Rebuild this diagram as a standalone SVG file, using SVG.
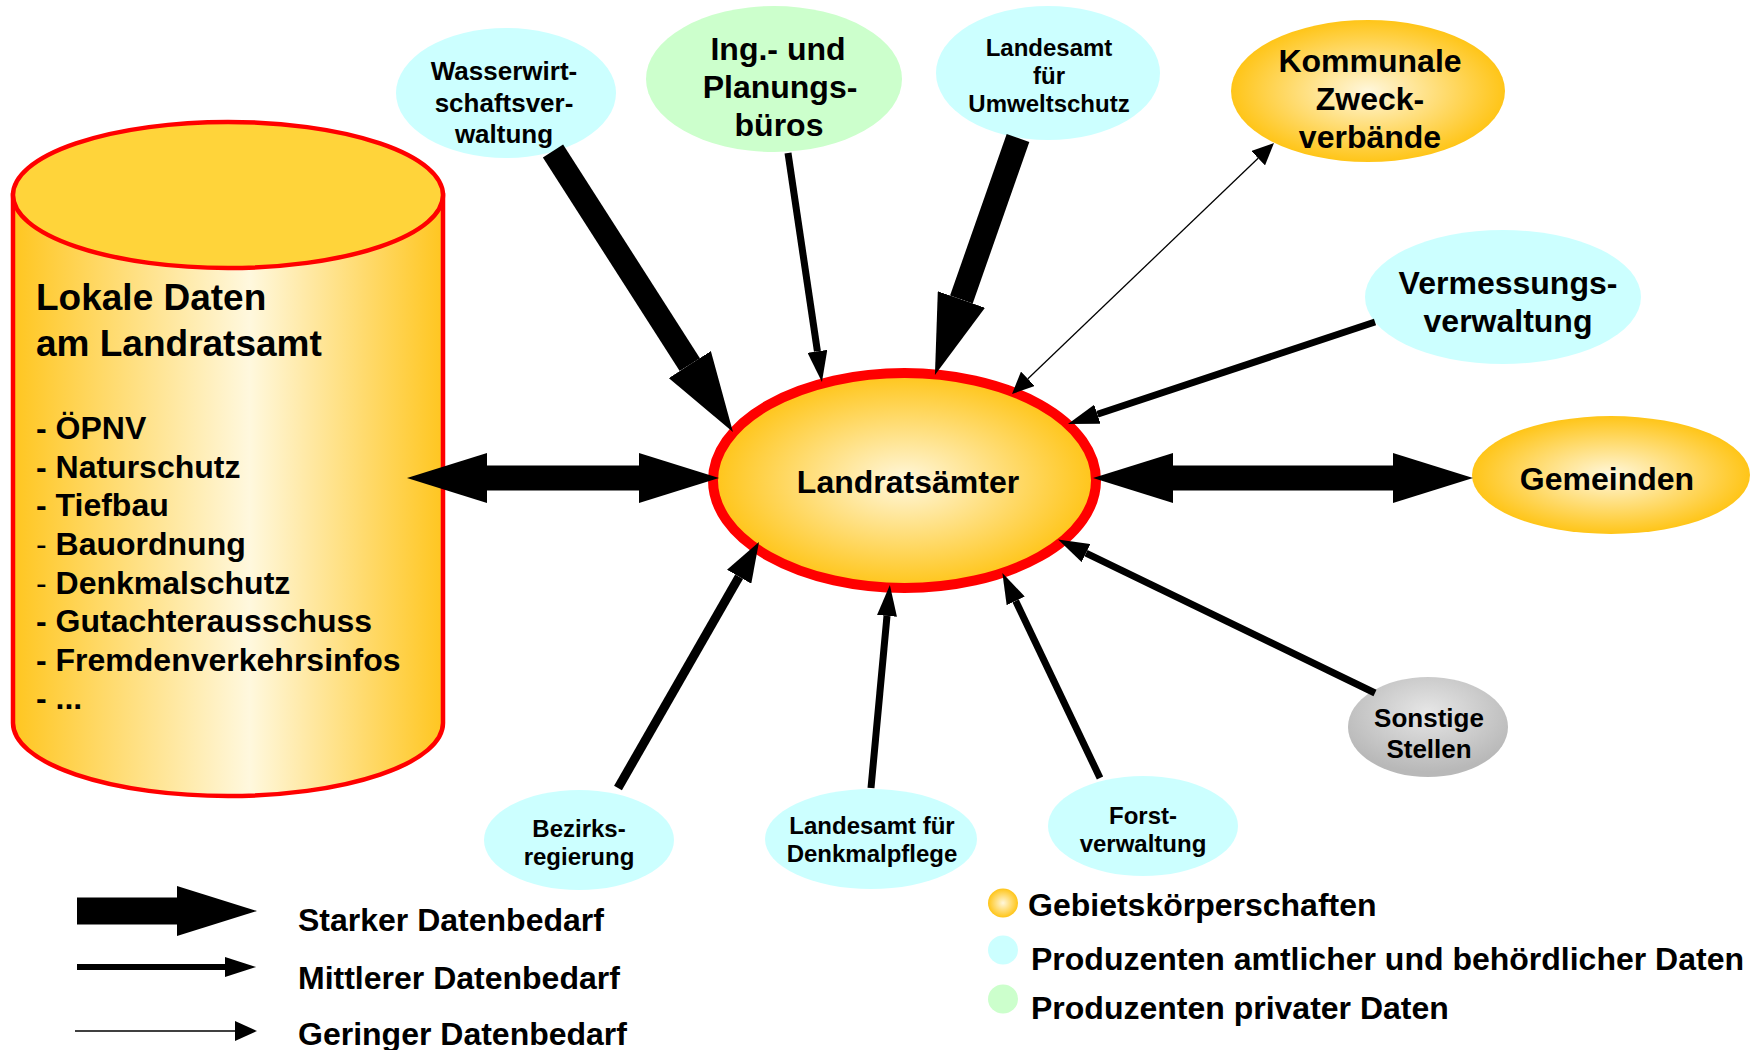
<svg xmlns="http://www.w3.org/2000/svg" width="1758" height="1050" viewBox="0 0 1758 1050">
<style>
text{font-family:"Liberation Sans",Arial,sans-serif;font-weight:bold;fill:#000}
.c{text-anchor:middle}
.cyan{fill:#CCFFFF}
.green{fill:#CCFFCC}
.gold{fill:url(#gGold)}
.s{stroke:#000;fill:none}
.strong{stroke-width:24}
.med{stroke-width:7}
.thin{stroke-width:1.3}
</style>
<defs>
<radialGradient id="gGold" cx="50%" cy="50%" r="50%">
<stop offset="0" stop-color="#FFF7DC"/>
<stop offset="1" stop-color="#FFC518"/>
</radialGradient>
<radialGradient id="gGray" cx="50%" cy="35%" r="60%">
<stop offset="0" stop-color="#E6E6E6"/>
<stop offset="1" stop-color="#B8B8B8"/>
</radialGradient>
<linearGradient id="gCyl" x1="0" y1="0" x2="1" y2="0">
<stop offset="0" stop-color="#FFC620"/>
<stop offset="0.55" stop-color="#FFF8DE"/>
<stop offset="1" stop-color="#FFC620"/>
</linearGradient>
<marker id="hStrong" markerUnits="userSpaceOnUse" viewBox="0 -25 80 50" refX="0" refY="0" markerWidth="80" markerHeight="50" orient="auto-start-reverse"><path d="M0,-25L80,0L0,25Z" fill="#000"/></marker>
<marker id="hMed" markerUnits="userSpaceOnUse" viewBox="0 -10 31 20" refX="0" refY="0" markerWidth="31" markerHeight="20" orient="auto"><path d="M0,-10L31,0L0,10Z" fill="#000"/></marker>
<marker id="hMedL" markerUnits="userSpaceOnUse" viewBox="0 -14 40 28" refX="0" refY="0" markerWidth="40" markerHeight="28" orient="auto"><path d="M0,-14L40,0L0,14Z" fill="#000"/></marker>
<marker id="hThin" markerUnits="userSpaceOnUse" viewBox="0 -10 22 20" refX="0" refY="0" markerWidth="22" markerHeight="20" orient="auto-start-reverse"><path d="M0,-10L22,0L0,10Z" fill="#000"/></marker>
</defs>
<rect width="1758" height="1050" fill="#fff"/>

<g id="lokale-daten">
<path d="M13,195V723A215,73 0 0 0 443,723V195Z" fill="url(#gCyl)" stroke="#FF0000" stroke-width="4.5"/>
<ellipse cx="228" cy="195" rx="215" ry="73" fill="#FFD43A" stroke="#FF0000" stroke-width="4.5"/>
<text x="36" y="310" font-size="37">Lokale Daten</text>
<text x="36" y="356" font-size="37">am Landratsamt</text>
<text x="36" y="439" font-size="32">- ÖPNV</text>
<text x="36" y="478" font-size="32">- Naturschutz</text>
<text x="36" y="516" font-size="32">- Tiefbau</text>
<text x="36" y="555" font-size="32"><tspan font-weight="normal">- </tspan>Bauordnung</text>
<text x="36" y="594" font-size="32"><tspan font-weight="normal">- </tspan>Denkmalschutz</text>
<text x="36" y="632" font-size="32">- Gutachterausschuss</text>
<text x="36" y="671" font-size="32">- Fremdenverkehrsinfos</text>
<text x="36" y="709" font-size="32">- ...</text>
</g>

<g id="wasserwirtschaft">
<ellipse class="cyan" cx="506" cy="93" rx="110" ry="65"/>
<text class="c" x="504" y="80" font-size="26">Wasserwirt-</text>
<text class="c" x="504" y="112" font-size="26">schaftsver-</text>
<text class="c" x="504" y="143" font-size="26">waltung</text>
</g>

<g id="ingenieurbueros">
<ellipse class="green" cx="774" cy="79" rx="128" ry="73"/>
<text class="c" x="778" y="60" font-size="32">Ing.- und</text>
<text class="c" x="780" y="98" font-size="32">Planungs-</text>
<text class="c" x="779" y="136" font-size="32">büros</text>
</g>

<g id="landesamt-umweltschutz">
<ellipse class="cyan" cx="1048" cy="73" rx="112" ry="67"/>
<text class="c" x="1049" y="56" font-size="24">Landesamt</text>
<text class="c" x="1049" y="84" font-size="24">für</text>
<text class="c" x="1049" y="112" font-size="24">Umweltschutz</text>
</g>

<g id="kommunale-zweckverbaende">
<ellipse class="gold" cx="1368" cy="91" rx="137" ry="71"/>
<text class="c" x="1370" y="72" font-size="32">Kommunale</text>
<text class="c" x="1370" y="110" font-size="32">Zweck-</text>
<text class="c" x="1370" y="148" font-size="32">verbände</text>
</g>

<g id="vermessungsverwaltung">
<ellipse class="cyan" cx="1503" cy="297" rx="138" ry="67"/>
<text class="c" x="1508" y="294" font-size="32">Vermessungs-</text>
<text class="c" x="1508" y="332" font-size="32">verwaltung</text>
</g>

<g id="gemeinden">
<ellipse class="gold" cx="1611" cy="475" rx="139" ry="59"/>
<text class="c" x="1607" y="490" font-size="32">Gemeinden</text>
</g>

<g id="sonstige-stellen">
<ellipse cx="1428" cy="727" rx="80" ry="50" fill="url(#gGray)"/>
<text class="c" x="1429" y="727" font-size="26">Sonstige</text>
<text class="c" x="1429" y="758" font-size="26">Stellen</text>
</g>

<g id="forstverwaltung">
<ellipse class="cyan" cx="1143" cy="826" rx="95" ry="50"/>
<text class="c" x="1143" y="824" font-size="24">Forst-</text>
<text class="c" x="1143" y="852" font-size="24">verwaltung</text>
</g>

<g id="landesamt-denkmalpflege">
<ellipse class="cyan" cx="871" cy="839" rx="106" ry="50"/>
<text class="c" x="872" y="834" font-size="24">Landesamt für</text>
<text class="c" x="872" y="862" font-size="24">Denkmalpflege</text>
</g>

<g id="bezirksregierung">
<ellipse class="cyan" cx="579" cy="840" rx="95" ry="50"/>
<text class="c" x="579" y="837" font-size="24">Bezirks-</text>
<text class="c" x="579" y="865" font-size="24">regierung</text>
</g>

<g id="landratsaemter">
<ellipse class="gold" cx="904.5" cy="480.5" rx="191.5" ry="107.5" stroke="#FF0000" stroke-width="10"/>
<text class="c" x="908" y="493" font-size="32">Landratsämter</text>
</g>

<g id="connectors">
<line class="s strong" x1="553" y1="151" x2="689.8" y2="364.6" marker-end="url(#hStrong)"/>
<line class="s med" x1="788" y1="153" x2="817.4" y2="351.3" stroke-width="6.5" marker-end="url(#hMed)"/>
<line class="s strong" x1="1018" y1="138" x2="961.4" y2="299.5" marker-end="url(#hStrong)"/>
<line class="s thin" x1="1027.9" y1="378.8" x2="1258.1" y2="158.2" marker-start="url(#hThin)" marker-end="url(#hThin)"/>
<line class="s med" x1="1375" y1="322" x2="1097.4" y2="414.2" marker-end="url(#hMed)"/>
<line class="s" x1="1173" y1="478" x2="1393" y2="478" stroke-width="25" marker-start="url(#hStrong)" marker-end="url(#hStrong)"/>
<line class="s" x1="487" y1="478" x2="639" y2="478" stroke-width="25" marker-start="url(#hStrong)" marker-end="url(#hStrong)"/>
<line class="s" x1="618" y1="788" x2="739.1" y2="576.7" stroke-width="9" marker-end="url(#hMedL)"/>
<line class="s med" x1="871" y1="788" x2="887" y2="615.9" marker-end="url(#hMed)"/>
<line class="s med" x1="1100" y1="778" x2="1015.7" y2="600.9" marker-end="url(#hMed)"/>
<line class="s med" x1="1375" y1="693" x2="1086" y2="553.1" marker-end="url(#hMed)"/>
</g>

<g id="legend-arrows">
<line class="s" x1="77" y1="911" x2="177" y2="911" stroke-width="27" marker-end="url(#hStrong)"/>
<line class="s" x1="77" y1="967" x2="225" y2="967" stroke-width="6" marker-end="url(#hMed)"/>
<line class="s" x1="75" y1="1031" x2="235" y2="1031" stroke-width="1.5" marker-end="url(#hThin)"/>
<text x="298" y="931" font-size="32">Starker Datenbedarf</text>
<text x="298" y="989" font-size="32">Mittlerer Datenbedarf</text>
<text x="298" y="1045" font-size="32">Geringer Datenbedarf</text>
</g>

<g id="legend-colours">
<ellipse cx="1003" cy="903" rx="15" ry="14.5" fill="url(#gGold)"/>
<ellipse cx="1003" cy="950" rx="15" ry="14.5" fill="#CCFFFF"/>
<ellipse cx="1003" cy="999" rx="15" ry="14.5" fill="#CCFFCC"/>
<text x="1028" y="916" font-size="32">Gebietskörperschaften</text>
<text x="1031" y="970" font-size="32">Produzenten amtlicher und behördlicher Daten</text>
<text x="1031" y="1019" font-size="32">Produzenten privater Daten</text>
</g>
</svg>
